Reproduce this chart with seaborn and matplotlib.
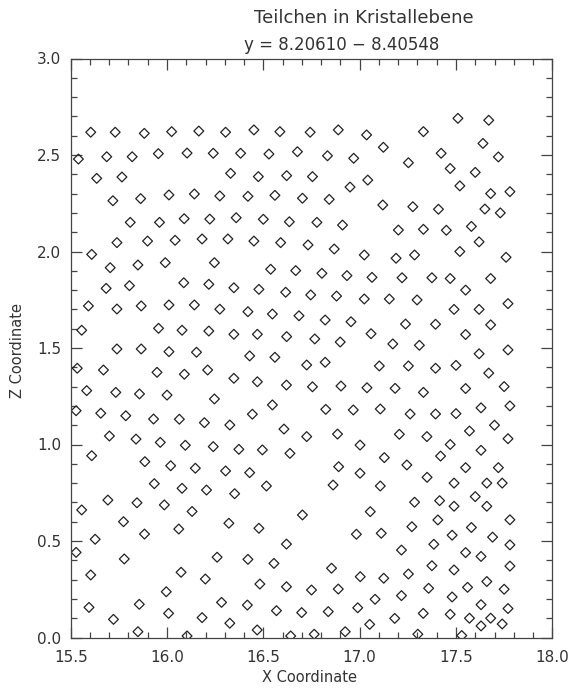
import numpy as np
import pandas as pd
import matplotlib
matplotlib.use("Agg")
import matplotlib.pyplot as plt
from matplotlib.ticker import MultipleLocator, FormatStrFormatter
import seaborn as sns

# particle positions (X, Z)
x_coord = [
    15.604, 15.731, 15.882, 16.024, 15.540, 15.687, 15.819, 15.955, 16.104, 15.635,
    15.766, 15.719, 15.863, 16.010, 15.809, 15.961, 16.089, 15.740, 15.899, 16.042,
    16.165, 16.304, 16.451, 16.586, 16.743, 16.240, 16.382, 16.529, 16.677, 16.330,
    16.474, 16.621, 16.755, 16.142, 16.274, 16.420, 16.560, 16.703, 16.222, 16.359,
    16.500, 16.635, 16.182, 16.316, 16.451, 16.590, 16.732,
    16.889, 17.036, 17.331, 17.123, 16.833, 16.969, 17.253, 17.423, 17.042, 16.950,
    16.842, 17.120, 17.276, 17.409, 16.778, 16.911, 17.201, 17.331,
    15.609, 15.705, 15.849, 15.991, 16.087, 15.684, 15.805, 15.592, 15.740, 15.866,
    16.010, 15.557, 15.956, 16.078, 15.740, 15.866, 16.010, 15.534, 15.670, 15.948,
    16.090,
    16.246, 16.538, 16.668, 16.217, 16.347, 16.477, 16.616, 16.142, 16.274, 16.420,
    16.547, 16.685, 16.217, 16.347, 16.469, 16.621, 16.153, 16.429, 16.560, 16.725,
    16.211,
    16.868, 17.024, 17.189, 17.285, 16.804, 16.934, 17.064, 17.220, 17.375, 16.746,
    16.880, 17.024, 17.154, 17.298, 16.821, 16.955, 17.059, 17.238, 17.394, 16.767,
    16.899, 17.172, 17.310, 16.821, 17.102, 17.253, 17.394,
    15.583, 15.734, 15.857, 16.000, 15.528, 15.656, 15.786, 15.930, 16.064, 15.701,
    15.839, 15.965, 16.095, 15.609, 15.885, 16.019, 15.934, 16.078, 15.693, 15.844,
    15.986, 15.557, 16.130,
    16.347, 16.469, 16.620, 16.755, 16.246, 16.547, 16.443, 16.194, 16.326, 16.607,
    16.725, 16.240, 16.373, 16.495, 16.638, 16.147, 16.304, 16.429, 16.205, 16.351,
    16.516,
    16.903, 17.038, 17.184, 17.331, 16.824, 16.967, 17.107, 17.262, 17.394, 16.885,
    17.002, 17.206, 17.349, 17.128, 17.245, 17.420, 16.891, 17.002, 17.350, 16.862,
    17.107, 17.285, 17.415,
    15.774, 15.883, 16.061, 15.627, 15.528, 15.778, 15.604, 16.073, 15.996, 15.595,
    15.856, 16.008, 15.722, 15.849, 16.104,
    16.703, 16.321, 16.477, 16.620, 16.260, 16.420, 16.555, 16.199, 16.482, 16.620,
    16.750, 16.283, 16.417, 16.568, 16.699, 16.182, 16.326, 16.468, 16.642, 16.764,
    17.055, 17.406, 17.271, 16.983, 17.112, 17.385, 17.217, 17.375, 16.854, 17.253,
    17.003, 17.125, 16.889, 17.358, 17.217, 17.080, 16.990, 16.837, 17.330, 17.182,
    17.052, 16.925, 17.302,
    17.51, 17.67, 17.64, 17.72, 17.47, 17.60, 17.52, 17.68, 17.78, 17.65,
    17.73, 17.45, 17.58, 17.52, 17.62, 17.76, 17.47, 17.68, 17.55, 17.77,
    17.62, 17.49, 17.68, 17.55, 17.77, 17.62, 17.50, 17.67, 17.75, 17.55,
    17.78, 17.63, 17.50, 17.70, 17.57, 17.77, 17.47, 17.63, 17.72, 17.55,
    17.49, 17.66, 17.74, 17.60, 17.49, 17.66, 17.78, 17.58, 17.48, 17.69,
    17.78, 17.55, 17.63, 17.78, 17.49, 17.66, 17.56, 17.75, 17.48, 17.63,
    17.77, 17.47, 17.57, 17.68, 17.63, 17.53, 17.74,
]
z_coord = [
    2.618, 2.618, 2.612, 2.621, 2.479, 2.491, 2.491, 2.507, 2.510, 2.379,
    2.386, 2.263, 2.274, 2.293, 2.151, 2.151, 2.170, 2.046, 2.054, 2.058,
    2.624, 2.618, 2.630, 2.621, 2.618, 2.509, 2.509, 2.505, 2.517, 2.405,
    2.388, 2.393, 2.388, 2.298, 2.288, 2.286, 2.291, 2.276, 2.168, 2.175,
    2.167, 2.154, 2.065, 2.065, 2.054, 2.046, 2.034,
    2.630, 2.604, 2.621, 2.540, 2.496, 2.483, 2.460, 2.509, 2.370, 2.334,
    2.270, 2.241, 2.232, 2.219, 2.151, 2.137, 2.111, 2.115,
    1.985, 1.916, 1.930, 1.942, 1.838, 1.809, 1.823, 1.718, 1.702, 1.718,
    1.723, 1.592, 1.602, 1.592, 1.495, 1.495, 1.481, 1.395, 1.386, 1.374,
    1.364,
    1.942, 1.908, 1.901, 1.830, 1.812, 1.804, 1.789, 1.723, 1.701, 1.688,
    1.676, 1.667, 1.588, 1.571, 1.571, 1.559, 1.478, 1.459, 1.452, 1.412,
    1.386,
    2.013, 1.982, 1.965, 1.982, 1.887, 1.875, 1.866, 1.864, 1.864, 1.775,
    1.769, 1.754, 1.754, 1.749, 1.645, 1.636, 1.574, 1.624, 1.623, 1.547,
    1.531, 1.521, 1.514, 1.426, 1.407, 1.407, 1.395,
    1.279, 1.270, 1.262, 1.256, 1.175, 1.162, 1.149, 1.132, 1.131, 1.044,
    1.028, 1.011, 0.996, 0.942, 0.911, 0.890, 0.797, 0.773, 0.712, 0.698,
    0.687, 0.661, 0.653,
    1.343, 1.325, 1.308, 1.299, 1.236, 1.205, 1.157, 1.113, 1.101, 1.080,
    1.041, 0.989, 0.975, 0.972, 0.954, 0.877, 0.863, 0.854, 0.764, 0.745,
    0.785,
    1.303, 1.294, 1.291, 1.270, 1.182, 1.179, 1.184, 1.158, 1.158, 1.054,
    0.997, 1.053, 1.041, 0.932, 0.894, 0.940, 0.885, 0.851, 0.830, 0.790,
    0.785, 0.701, 0.709,
    0.600, 0.536, 0.562, 0.509, 0.441, 0.407, 0.324, 0.338, 0.237, 0.156,
    0.172, 0.125, 0.094, 0.030, 0.008,
    0.635, 0.592, 0.566, 0.484, 0.416, 0.405, 0.384, 0.303, 0.277, 0.263,
    0.246, 0.182, 0.168, 0.139, 0.129, 0.103, 0.074, 0.039, 0.008, 0.017,
    0.652, 0.609, 0.574, 0.535, 0.540, 0.483, 0.453, 0.372, 0.359, 0.329,
    0.315, 0.307, 0.251, 0.255, 0.217, 0.198, 0.154, 0.134, 0.125, 0.099,
    0.068, 0.030, 0.017,
    2.69, 2.68, 2.56, 2.49, 2.43, 2.41, 2.34, 2.30, 2.31, 2.22,
    2.20, 2.11, 2.13, 2.00, 2.05, 1.97, 1.86, 1.86, 1.80, 1.73,
    1.70, 1.70, 1.62, 1.57, 1.49, 1.47, 1.41, 1.37, 1.30, 1.29,
    1.20, 1.19, 1.16, 1.10, 1.07, 1.03, 1.00, 0.97, 0.88, 0.88,
    0.80, 0.80, 0.80, 0.73, 0.68, 0.68, 0.61, 0.57, 0.53, 0.52,
    0.48, 0.44, 0.42, 0.37, 0.35, 0.29, 0.26, 0.25, 0.21, 0.17,
    0.15, 0.12, 0.10, 0.10, 0.06, 0.01, 0.07,
]

title = "Teilchen in Kristallebene"
subtitle = "y = 8.20610 \u2212 8.40548"
x_label = "X Coordinate"
y_label = "Z Coordinate"

df = pd.DataFrame({"x": x_coord, "z": z_coord})

sns.set_theme(style="white")
plt.rcParams["font.family"] = ["DejaVu Sans"]

ink = "#333333"
fig = plt.figure(figsize=(5.71, 6.90), dpi=100)
W, H = 571, 690
left, right, top, bottom = 70.7, 552.3, 58.5, 637.5
ax = fig.add_axes([left / W, 1 - bottom / H, (right - left) / W, (bottom - top) / H])

sns.scatterplot(data=df, x="x", y="z", ax=ax, marker="D", s=25,
                facecolor="none", edgecolor="#222222", linewidth=0.9, legend=False)

ax.set_xlim(15.5, 18.0)
ax.set_ylim(0.0, 3.0)
ax.xaxis.set_major_locator(MultipleLocator(0.5))
ax.xaxis.set_minor_locator(MultipleLocator(0.1))
ax.yaxis.set_major_locator(MultipleLocator(0.5))
ax.yaxis.set_minor_locator(MultipleLocator(0.1))
ax.xaxis.set_major_formatter(FormatStrFormatter("%.1f"))
ax.yaxis.set_major_formatter(FormatStrFormatter("%.1f"))
ax.tick_params(which="both", direction="in", top=True, right=True, bottom=True, left=True,
               color="#444444", width=0.9, labelcolor=ink, labelsize=11)
ax.tick_params(axis="x", which="major", length=8, pad=9)
ax.tick_params(axis="y", which="major", length=8, pad=7)
ax.tick_params(which="minor", length=4)
for sp in ax.spines.values():
    sp.set_visible(True)
    sp.set_color("#444444")
    sp.set_linewidth(0.9)
ax.set_xlabel("")
ax.set_ylabel("")

fig.text(310 / W, 1 - 677 / H, x_label, ha="center", va="center", fontsize=10.5, color=ink)
fig.text(18 / W, 1 - 350 / H, y_label, ha="center", va="center", rotation=90, fontsize=10.5, color=ink)
fig.text(364 / W, 1 - 18 / H, title, ha="center", va="center", fontsize=13, color=ink)
fig.text(342 / W, 1 - 45 / H, subtitle, ha="center", va="center", fontsize=12, color=ink)

fig.savefig("out.png", dpi=100, facecolor="white")
